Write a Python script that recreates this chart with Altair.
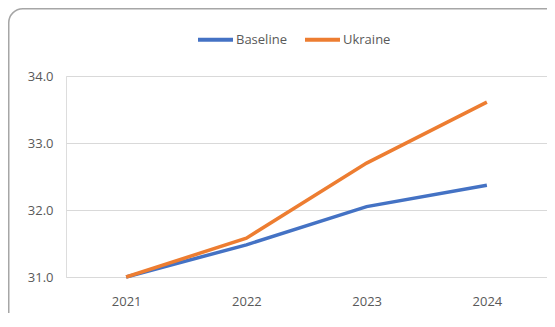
import altair as alt
import pandas as pd

years = ["2021", "2022", "2023", "2024"]
baseline = [31.0, 31.48, 32.05, 32.37]
ukraine = [31.0, 31.58, 32.70, 33.61]
series_names = ["Baseline", "Ukraine"]
series_colors = ["#4472C4", "#ED7D31"]
y_ticks = [31, 32, 33, 34]

rows = []
for name, vals in zip(series_names, [baseline, ukraine]):
    for yr, v in zip(years, vals):
        rows.append({"Year": yr, "Value": v, "Series": name})
df = pd.DataFrame(rows)

W, H = 481, 201
PL, PT, PB = 58, 68, 36
FONT = "Open Sans"

border = alt.Chart(pd.DataFrame({"a": [0]})).mark_rect(
    fill="transparent", stroke="#a6a6a6", strokeWidth=1.5, cornerRadius=14, clip=False
).encode(
    x=alt.value(-PL + 0.75), x2=alt.value(W + 40),
    y=alt.value(-PT + 0.75), y2=alt.value(H + 80),
)

lines = alt.Chart(df).mark_line(strokeWidth=3.5, clip=False).encode(
    x=alt.X("Year:O", sort=years,
            scale=alt.Scale(type="point", padding=0.5),
            axis=alt.Axis(title=None, labelAngle=0, ticks=False, domain=False, grid=False,
                          labelPadding=18, labelColor="#595959", labelFontSize=13,
                          labelFont=FONT)),
    y=alt.Y("Value:Q", scale=alt.Scale(domain=[31, 34], nice=False, zero=False),
            axis=alt.Axis(title=None, values=y_ticks, format=".1f", ticks=False,
                          domain=False, labelPadding=13, gridColor="#d9d9d9",
                          labelColor="#595959", labelFontSize=13,
                          labelFont=FONT)),
    color=alt.Color("Series:N", sort=series_names,
                    scale=alt.Scale(domain=series_names, range=series_colors),
                    legend=alt.Legend(title=None, orient="none", direction="horizontal",
                                      legendX=130, legendY=-56,
                                      symbolType="stroke", symbolSize=1225,
                                      symbolStrokeWidth=4, labelOffset=1,
                                      columnPadding=10, labelFontSize=13,
                                      labelColor="#595959", labelFont=FONT)),
)

chart = alt.layer(border, lines).properties(
    width=W, height=H,
    autosize=alt.AutoSizeParams(type="none"),
    padding={"left": PL, "top": PT, "right": 0, "bottom": PB},
).configure_view(strokeWidth=0, stroke="transparent").configure(background="white")

chart.save("out.html", embed_options={"renderer": "svg", "actions": False})
